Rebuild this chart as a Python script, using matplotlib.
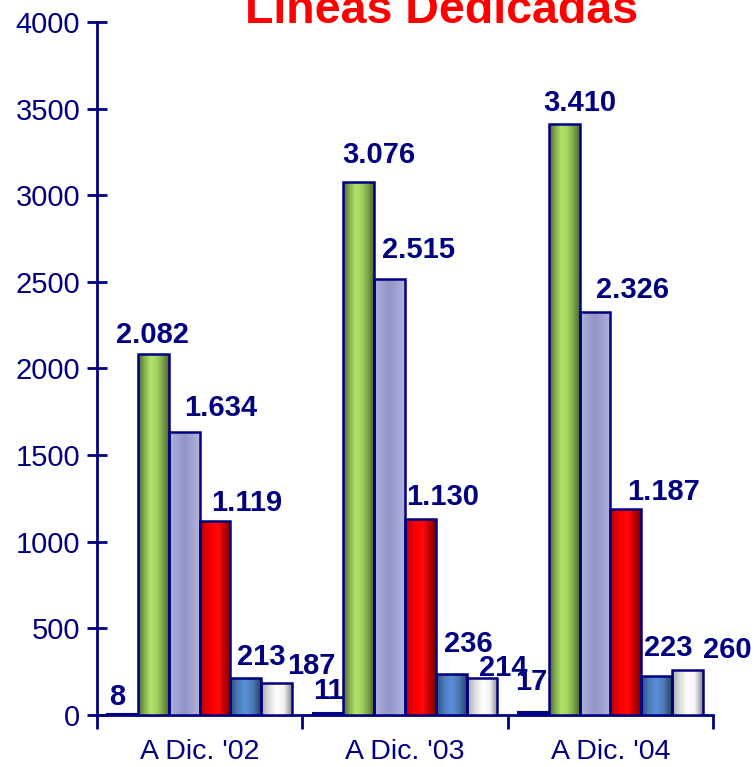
import numpy as np
import matplotlib.pyplot as plt
from matplotlib.colors import LinearSegmentedColormap

plt.rcParams['font.family'] = ['Liberation Sans', 'DejaVu Sans']

# data
periodos = ["A Dic. '02", "A Dic. '03", "A Dic. '04"]
serie_1 = [8, 11, 17]
serie_2 = [2082, 3076, 3410]
serie_3 = [1634, 2515, 2326]
serie_4 = [1119, 1130, 1187]
serie_5 = [213, 236, 223]
serie_6 = [187, 214, 260]
etiquetas = [
    ["8", "2.082", "1.634", "1.119", "213", "187"],
    ["11", "3.076", "2.515", "1.130", "236", "214"],
    ["17", "3.410", "2.326", "1.187", "223", "260"],
]

series = [serie_1, serie_2, serie_3, serie_4, serie_5, serie_6]

# estilos: degradados horizontales de cada serie
degradados = [
    None,
    ['#4c6630', '#86ad50', '#b2e46a', '#a4d460', '#80a64c', '#4e6a2e'],
    ['#b4b4dc', '#a0a0d2', '#9494c8', '#a2a2d4', '#b4b4dc'],
    ['#b00000', '#e00000', '#ff0000', '#ff0a0a', '#c00000', '#7a0000'],
    ['#2e4a78', '#4c7cbc', '#5a90d8', '#4a78b4', '#2a4266'],
    ['#a8a8a8', '#dcdcdc', '#ffffff', '#f2f2f2', '#8a8a8a'],
]
navy = '#000080'

# desplazamientos de las etiquetas (pixeles)
desp = [
    [(-5, 17), (-1, 19), (36, 24), (32, 18), (15, 21), (35, 17)],
    [(0, 22), (20, 27), (29, 29), (22, 22), (17, 30), (21, 10)],
    [(-2, 30), (16, 21), (38, 22), (38, 17), (12, 28), (40, 20)],
]

fig = plt.figure(figsize=(7.54, 7.67), dpi=100)
ax = fig.add_axes([97 / 754, 1 - 715 / 767, (713 - 97) / 754, 693 / 767])

x = np.arange(len(periodos))
ancho = 0.15
grad = np.linspace(0, 1, 64).reshape(1, -1)

for i, vals in enumerate(series):
    pos = x + (i - 2.5) * ancho
    if degradados[i] is None:
        ax.bar(pos, vals, ancho, color=navy, edgecolor=navy, linewidth=1.5, zorder=3)
        continue
    bars = ax.bar(pos, vals, ancho, color='none', edgecolor=navy, linewidth=1.8, zorder=4)
    cmap = LinearSegmentedColormap.from_list('g%d' % i, degradados[i])
    for b in bars:
        x0, y0 = b.get_x(), b.get_y()
        im = ax.imshow(grad, cmap=cmap, aspect='auto', interpolation='bicubic',
                       extent=(x0, x0 + b.get_width(), y0, y0 + b.get_height()), zorder=3)
        im.set_clip_path(b)

for g in range(len(periodos)):
    for i, vals in enumerate(series):
        pos = x[g] + (i - 2.5) * ancho
        dx, dy = desp[g][i]
        ax.annotate(etiquetas[g][i], xy=(pos, vals[g]), xytext=(dx, dy),
                    textcoords='offset pixels', ha='center', va='center',
                    fontsize=21, fontweight='bold', color=navy, zorder=5)

ax.set_xlim(-0.5, 2.5)
ax.set_ylim(0, 4000)
ax.set_yticks(np.arange(0, 4001, 500))
ax.set_xticks(x)
ax.set_xticklabels(periodos)
ax.set_xticks([-0.5, 0.5, 1.5, 2.5], minor=True)
ax.tick_params(axis='x', which='major', length=0, pad=17, labelsize=20.5, labelcolor=navy)
ax.tick_params(axis='x', which='minor', length=10, width=2, color=navy, direction='out')
ax.tick_params(axis='y', length=14, width=2, color=navy, direction='inout',
               labelsize=21, labelcolor=navy, pad=5)
for s in ['top', 'right']:
    ax.spines[s].set_visible(False)
for s in ['left', 'bottom']:
    ax.spines[s].set_color(navy)
    ax.spines[s].set_linewidth(2)

fig.text(442 / 754, 1 - 23 / 767, 'Líneas Dedicadas', ha='center', va='baseline',
         fontsize=33.5, fontweight='bold', color='#ff0000')

fig.savefig('out.png', dpi=100)
